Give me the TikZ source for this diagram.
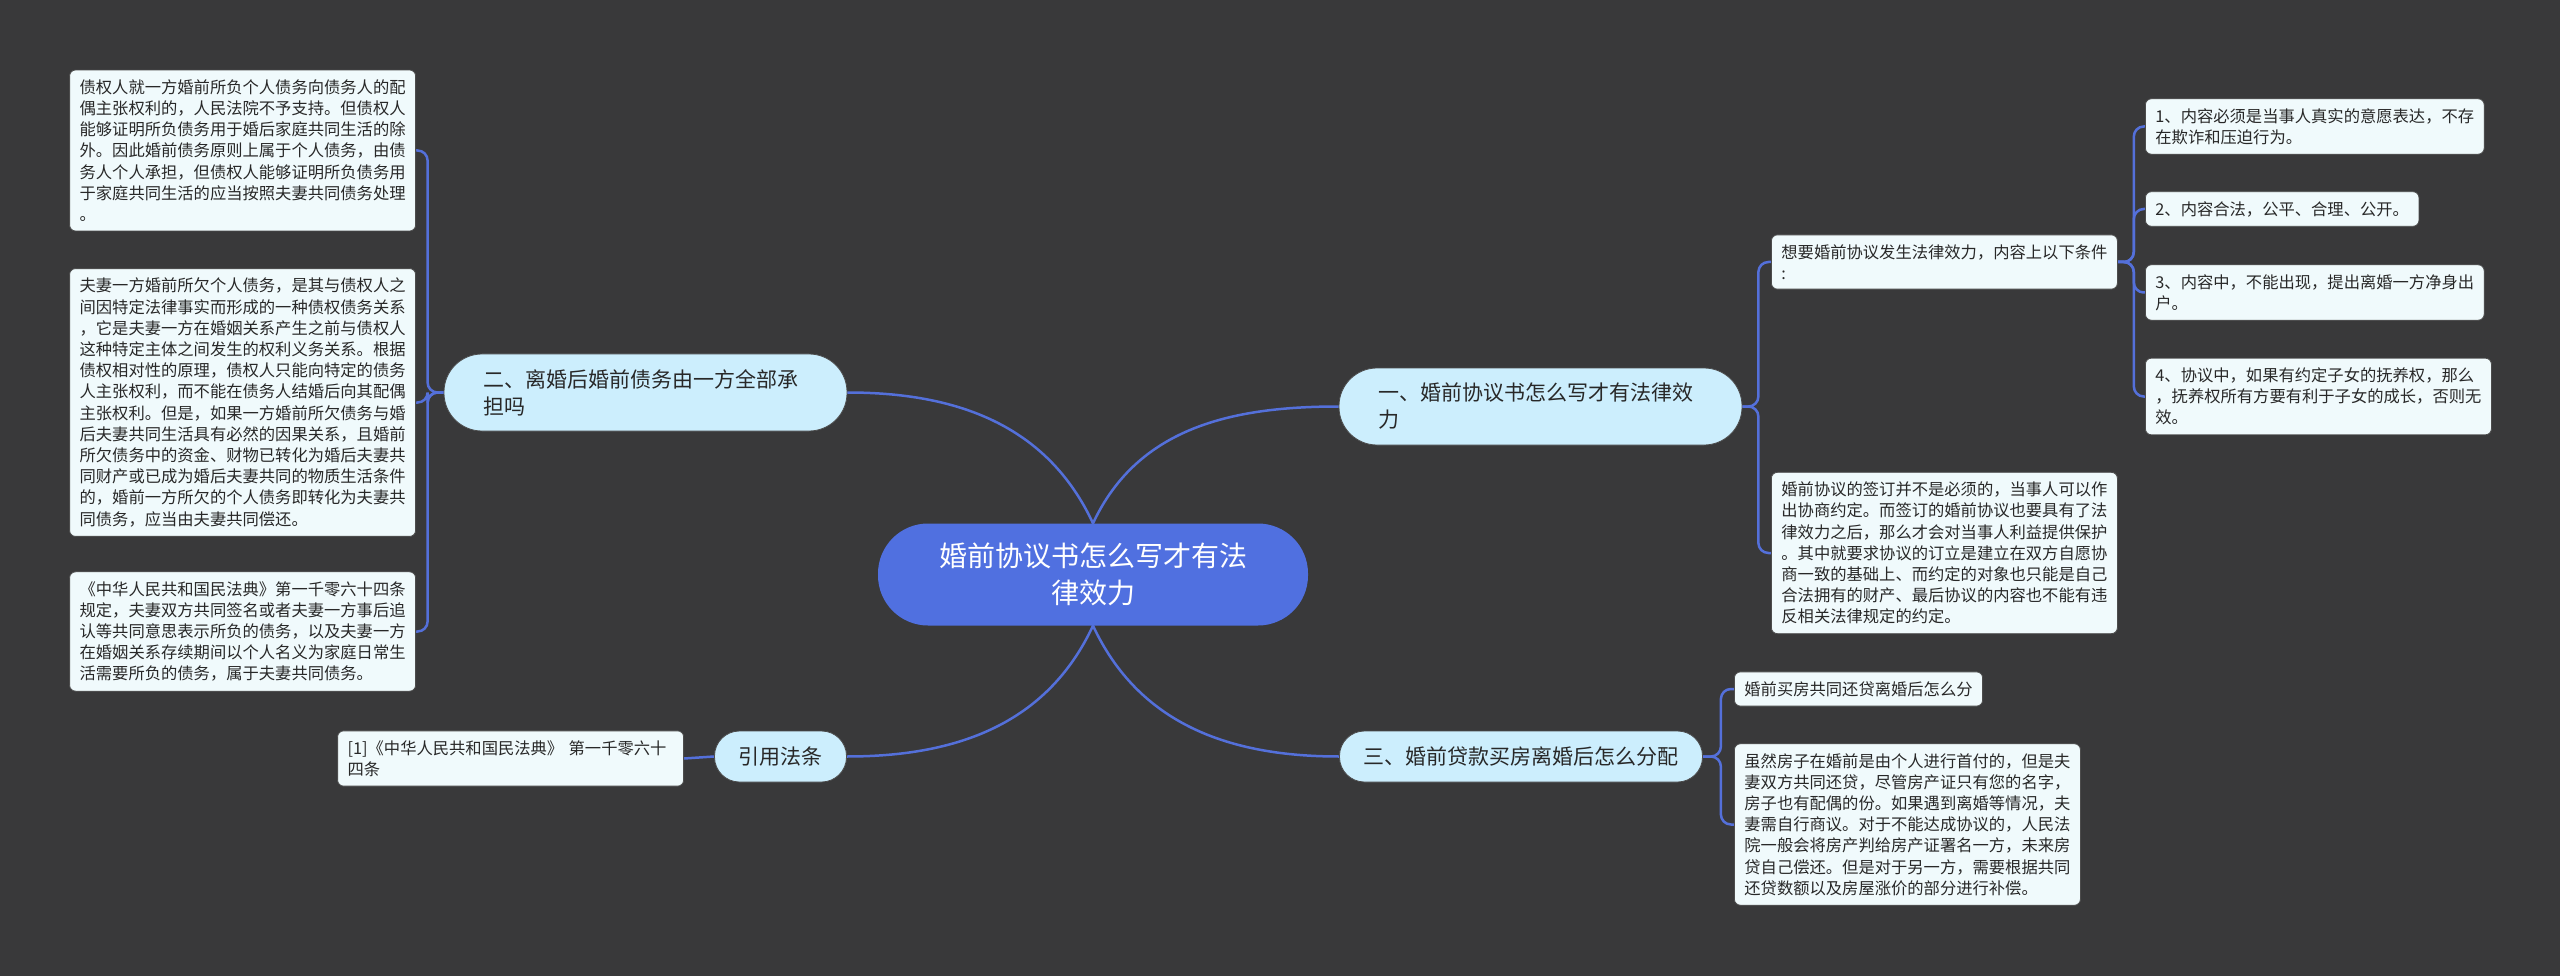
\documentclass[tikz,border=0pt]{standalone}
\usepackage{fontspec}
\newfontfamily\cjk{Noto Sans CJK SC}
\usepackage{tikz}
\usetikzlibrary{backgrounds}
\definecolor{bgdark}{RGB}{57,57,58}
\definecolor{rootblue}{RGB}{80,112,224}
\definecolor{linkblue}{RGB}{84,112,218}
\definecolor{topicfill}{RGB}{204,238,253}
\definecolor{leaffill}{RGB}{240,250,252}
\definecolor{inktext}{RGB}{40,40,40}
\tikzset{
  root/.style={rectangle, rounded corners=50pt, fill=rootblue, text=white,
               minimum width=430pt, minimum height=102pt, align=center,
               font=\cjk\fontsize{28}{37}\selectfont},
  topic/.style={rectangle, rounded corners=25pt, fill=topicfill, draw=black!70,
                line width=0.8pt, text=inktext, inner xsep=24pt, minimum height=51pt,
                font=\cjk\fontsize{21}{27}\selectfont},
  topicwide/.style={topic, rounded corners=38pt, text width=325pt, inner xsep=39pt,
                    align=left, minimum height=77pt},
  leaf/.style={rectangle, rounded corners=6pt, fill=leaffill, draw=black!70,
               line width=0.8pt, text=inktext, inner xsep=10pt, inner ysep=9.5pt,
               align=left, font=\cjk\fontsize{16.3}{21.2}\selectfont},
  link/.style={line width=2.5pt, linkblue, line cap=round},
  elbow/.style={link, rounded corners=10pt},
}
\begin{document}
\begin{tikzpicture}[x=1pt, y=1pt]
  \useasboundingbox (0,0) rectangle (2560,-976);
  \node[root] (c) at (1093,-574.5) {婚前协议书怎么写才有法\\律效力};
  \node[topicwide] (er) at (645.5,-392.5) {二、离婚后婚前债务由一方全部承\\担吗};
  \node[topicwide] (yi) at (1540.5,-406.5) {一、婚前协议书怎么写才有法律效\\力};
  \node[topic] (san) at (1521,-756.5) {三、婚前贷款买房离婚后怎么分配};
  \node[topic] (cite) at (780.5,-756.5) {引用法条};
  \node[leaf, anchor=east] (l1) at (416,-150.5) {债权人就一方婚前所负个人债务向债务人的配\\
    偶主张权利的，人民法院不予支持。但债权人\\
    能够证明所负债务用于婚后家庭共同生活的除\\
    外。因此婚前债务原则上属于个人债务，由债\\
    务人个人承担，但债权人能够证明所负债务用\\
    于家庭共同生活的应当按照夫妻共同债务处理\\
    。};
  \node[leaf, anchor=east] (l2) at (416,-402.5) {夫妻一方婚前所欠个人债务，是其与债权人之\\
    间因特定法律事实而形成的一种债权债务关系\\
    ，它是夫妻一方在婚姻关系产生之前与债权人\\
    这种特定主体之间发生的权利义务关系。根据\\
    债权相对性的原理，债权人只能向特定的债务\\
    人主张权利，而不能在债务人结婚后向其配偶\\
    主张权利。但是，如果一方婚前所欠债务与婚\\
    后夫妻共同生活具有必然的因果关系，且婚前\\
    所欠债务中的资金、财物已转化为婚后夫妻共\\
    同财产或已成为婚后夫妻共同的物质生活条件\\
    的，婚前一方所欠的个人债务即转化为夫妻共\\
    同债务，应当由夫妻共同偿还。};
  \node[leaf, anchor=east] (l3) at (416,-631.5) {《中华人民共和国民法典》第一千零六十四条\\
    规定，夫妻双方共同签名或者夫妻一方事后追\\
    认等共同意思表示所负的债务，以及夫妻一方\\
    在婚姻关系存续期间以个人名义为家庭日常生\\
    活需要所负的债务，属于夫妻共同债务。};
  \node[leaf, anchor=east, text width=326pt] (ref1) at (684,-758.5) {[1]《中华人民共和国民法典》 第一千零六十\\
    四条};
  \node[leaf, anchor=west] (rt) at (1771,-262) {想要婚前协议发生法律效力，内容上以下条件\\
    :};
  \node[leaf, anchor=west] (rb) at (1771,-553) {婚前协议的签订并不是必须的，当事人可以作\\
    出协商约定。而签订的婚前协议也要具有了法\\
    律效力之后，那么才会对当事人利益提供保护\\
    。其中就要求协议的订立是建立在双方自愿协\\
    商一致的基础上、而约定的对象也只能是自己\\
    合法拥有的财产、最后协议的内容也不能有违\\
    反相关法律规定的约定。};
  \node[leaf, anchor=west] (rr1) at (2145,-126.5) {1、内容必须是当事人真实的意愿表达，不存\\
    在欺诈和压迫行为。};
  \node[leaf, anchor=west] (rr2) at (2145,-209) {2、内容合法，公平、合理、公开。};
  \node[leaf, anchor=west] (rr3) at (2145,-292.5) {3、内容中，不能出现，提出离婚一方净身出\\
    户。};
  \node[leaf, anchor=west] (rr4) at (2145,-396.5) {4、协议中，如果有约定子女的抚养权，那么\\
    ，抚养权所有方要有利于子女的成长，否则无\\
    效。};
  \node[leaf, anchor=west] (b1) at (1734,-689) {婚前买房共同还贷离婚后怎么分};
  \node[leaf, anchor=west] (b2) at (1734,-824.5) {虽然房子在婚前是由个人进行首付的，但是夫\\
    妻双方共同还贷，尽管房产证只有您的名字，\\
    房子也有配偶的份。如果遇到离婚等情况，夫\\
    妻需自行商议。对于不能达成协议的，人民法\\
    院一般会将房产判给房产证署名一方，未来房\\
    贷自己偿还。但是对于另一方，需要根据共同\\
    还贷数额以及房屋涨价的部分进行补偿。};
  \begin{scope}[on background layer]
    \fill[bgdark] (0,0) rectangle (2560,-976);
    \draw[link] (c.north) to[out=115,in=0] (er.east);
    \draw[link] (c.north) to[out=65,in=180] (yi.west);
    \draw[link] (c.south) to[out=-115,in=0] (cite.east);
    \draw[link] (c.south) to[out=-65,in=180] (san.west);
    \draw[link] (cite.west) -- (ref1.east);
    \foreach \n in {l1,l2,l3} {\draw[elbow] (er.west) -- ++(-16,0) |- (\n.east);}
    \foreach \n in {rt,rb} {\draw[elbow] (yi.east) -- ++(16,0) |- (\n.west);}
    \foreach \n in {rr1,rr2,rr3,rr4} {\draw[elbow] (rt.east) -- ++(16,0) |- (\n.west);}
    \foreach \n in {b1,b2} {\draw[elbow] (san.east) -- ++(18,0) |- (\n.west);}
  \end{scope}
\end{tikzpicture}
\end{document}
